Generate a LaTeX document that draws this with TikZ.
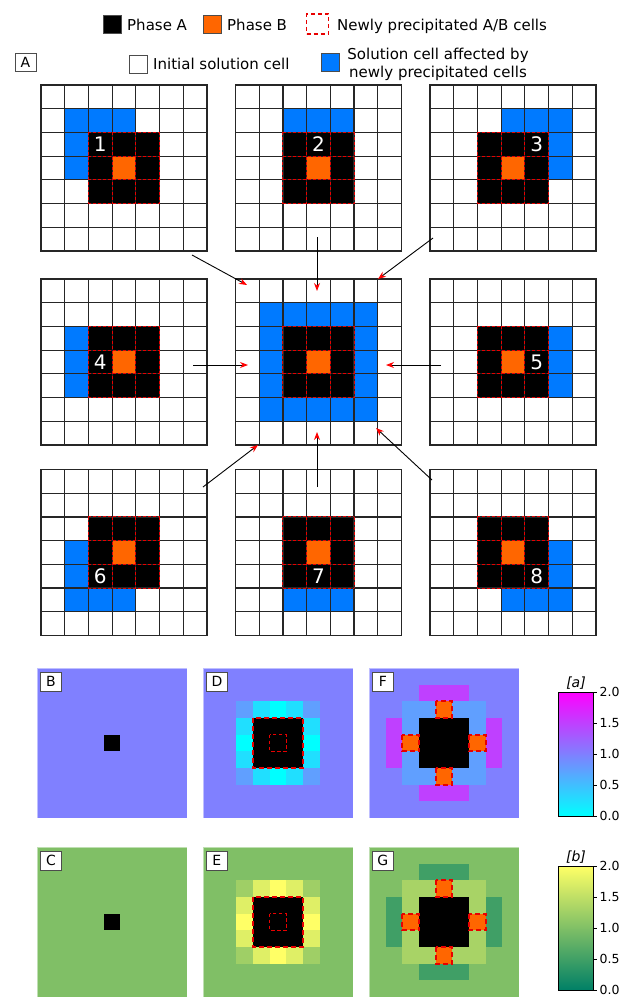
\documentclass[tikz,border=0pt]{standalone}
\usepackage{fontspec}
\setmainfont{DejaVu Sans}
\usetikzlibrary{arrows.meta}
\definecolor{phB}{RGB}{255,102,0}
\definecolor{solblue}{RGB}{0,122,255}
\definecolor{dred}{RGB}{232,0,0}
\definecolor{coolbg}{RGB}{128,128,255}
\definecolor{coolC}{RGB}{96,159,255}
\definecolor{coolE}{RGB}{32,223,255}
\definecolor{coolM}{RGB}{0,255,255}
\definecolor{coolP}{RGB}{191,64,255}
\definecolor{coolhi}{RGB}{255,0,255}
\definecolor{sumbg}{RGB}{128,191,102}
\definecolor{sumC}{RGB}{159,207,102}
\definecolor{sumE}{RGB}{223,239,102}
\definecolor{sumM}{RGB}{255,255,102}
\definecolor{sumR}{RGB}{168,211,102}
\definecolor{sumD}{RGB}{64,159,102}
\definecolor{sumlo}{RGB}{0,128,102}
\tikzset{
 gridline/.style={line width=1.2pt, black!85, line cap=rect},
 reddash/.style={dred, line width=1.1pt, dash pattern=on 3pt off 2pt},
 bigdash/.style={dred, line width=1.8pt, dash pattern=on 5pt off 3pt},
 numlabel/.style={text=white, font=\fontsize{20}{24}\selectfont, inner sep=0},
 legsq/.style={minimum size=18pt, inner sep=0, draw=black!70, line width=0.8pt},
 legtext/.style={font=\fontsize{15}{18}\selectfont, inner sep=0, anchor=base west},
 panlabel/.style={draw=black!70, fill=white, line width=0.8pt, minimum width=21pt, minimum height=19pt, inner sep=0, font=\fontsize{14}{16}\selectfont, anchor=north west},
 flow/.style={black, line width=0.9pt, -{Stealth[red, length=8pt, width=6pt]}},
 ticklab/.style={font=\fontsize{12.5}{14}\selectfont, inner sep=0, anchor=west},
 cbar/.style={draw=black, line width=0.8pt, minimum width=35pt, minimum height=124pt, inner sep=0},
 cbtitle/.style={font=\fontsize{14}{16}\selectfont\itshape, inner sep=0},
 heatframe/.style={draw=white, draw opacity=0.5, line width=0.8pt},
}
\newcommand{\bl}[2]{\fill[solblue] (#1,#2) rectangle ++(1,1);}
\newcommand{\gridpanel}[3]{%
\begin{scope}[shift={(#1,#2)}, x=23.71pt, y=-23.71pt]
 \fill[black] (2,2) rectangle (5,5);
 \fill[phB] (3,3) rectangle (4,4);
 #3
 \foreach \k in {0,...,7} {\draw[gridline] (\k,0) -- (\k,7); \draw[gridline] (0,\k) -- (7,\k);}
 \foreach \k in {2,3,4,5} {\draw[reddash] (2,\k) -- (5,\k); \draw[reddash] (\k,2) -- (\k,5);}
\end{scope}}
\newcommand{\hc}[3]{\fill[#3] (#1,#2) rectangle ++(1,1);}
\newcommand{\ringpanel}[6]{%
\begin{scope}[shift={(#1,#2)}, x=16.667pt, y=-16.667pt]
 \fill[#3] (0,0) rectangle (9,9);
 \foreach \c/\r in {2/2,6/2,2/6,6/6} {\hc{\c}{\r}{#4}}
 \foreach \c/\r in {3/2,5/2,3/6,5/6,2/3,2/5,6/3,6/5} {\hc{\c}{\r}{#5}}
 \foreach \c/\r in {4/2,4/6,2/4,6/4} {\hc{\c}{\r}{#6}}
 \fill[black] (3,3) rectangle (6,6);
 \draw[bigdash] (3,3) rectangle (6,6);
 \draw[dred, line width=1.6pt, dash pattern=on 3.5pt off 2.5pt] (4,4) rectangle (5,5);
 \draw[heatframe] (0,0) rectangle (9,9);
\end{scope}}
\newcommand{\crosspanel}[5]{%
\begin{scope}[shift={(#1,#2)}, x=16.667pt, y=-16.667pt]
 \fill[#3] (0,0) rectangle (9,9);
 \fill[#4] (2,2) rectangle (7,7);
 \fill[#5] (3,1) rectangle (6,2);
 \fill[#5] (3,7) rectangle (6,8);
 \fill[#5] (1,3) rectangle (2,6);
 \fill[#5] (7,3) rectangle (8,6);
 \fill[black] (3,3) rectangle (6,6);
 \foreach \c/\r in {4/2,2/4,6/4,4/6} {\fill[phB] (\c,\r) rectangle ++(1,1); \draw[bigdash] (\c,\r) rectangle ++(1,1);}
 \draw[heatframe] (0,0) rectangle (9,9);
\end{scope}}
\newcommand{\dotpanel}[3]{%
\begin{scope}[shift={(#1,#2)}, x=16.667pt, y=-16.667pt]
 \fill[#3] (0,0) rectangle (9,9);
 \fill[black] (4,4) rectangle (5,5);
 \draw[heatframe] (0,0) rectangle (9,9);
\end{scope}}
\begin{document}
\begin{tikzpicture}[x=1pt, y=-1pt]
\useasboundingbox[fill=white] (0,0) rectangle (622,998);
% legend
\node[legsq, fill=black] (lgA) at (112,24.5) {};
\node[legtext] (tA) at (127,31) {Phase A};
\node[legsq, fill=phB] (lgB) at (212,24.5) {};
\node[legtext] (tB) at (227,31) {Phase B};
\node[minimum width=22pt, minimum height=20pt, inner sep=0, draw=dred, line width=1.6pt, dash pattern=on 4pt off 3pt] (lgN) at (317.5,24) {};
\node[legtext] (tN) at (337,31) {Newly precipitated A/B cells};
\node[panlabel, minimum height=18pt, anchor=center] (labA) at (25.5,62) {A};
\node[legsq, fill=white] (lgI) at (138,64) {};
\node[legtext] (tI) at (153,70) {Initial solution cell};
\node[legsq, fill=solblue] (lgS) at (330,62) {};
\node[font=\fontsize{15}{18}\selectfont, align=center, inner sep=0] (tS) at (438,64) {Solution cell affected by\\newly precipitated cells};
% grid panels
\gridpanel{41}{85}{\bl{1}{1}\bl{2}{1}\bl{3}{1}\bl{1}{2}\bl{1}{3}\node[numlabel] (n1) at (2.5,2.5) {1};}
\gridpanel{235.5}{85}{\bl{2}{1}\bl{3}{1}\bl{4}{1}\node[numlabel] (n2) at (3.5,2.5) {2};}
\gridpanel{430}{85}{\bl{3}{1}\bl{4}{1}\bl{5}{1}\bl{5}{2}\bl{5}{3}\node[numlabel] (n3) at (4.5,2.5) {3};}
\gridpanel{41}{279}{\bl{1}{2}\bl{1}{3}\bl{1}{4}\node[numlabel] (n4) at (2.5,3.5) {4};}
\gridpanel{235.5}{279}{\fill[solblue] (1,1) rectangle (6,6); \fill[black] (2,2) rectangle (5,5); \fill[phB] (3,3) rectangle (4,4);}
\gridpanel{430}{279}{\bl{5}{2}\bl{5}{3}\bl{5}{4}\node[numlabel] (n5) at (4.5,3.5) {5};}
\gridpanel{41}{469.5}{\bl{1}{3}\bl{1}{4}\bl{1}{5}\bl{2}{5}\bl{3}{5}\node[numlabel] (n6) at (2.5,4.5) {6};}
\gridpanel{235.5}{469.5}{\bl{2}{5}\bl{3}{5}\bl{4}{5}\node[numlabel] (n7) at (3.5,4.5) {7};}
\gridpanel{430}{469.5}{\bl{5}{3}\bl{5}{4}\bl{3}{5}\bl{4}{5}\bl{5}{5}\node[numlabel] (n8) at (4.5,4.5) {8};}
% arrows
\coordinate (a1s) at (192,255); \coordinate (a1e) at (247,285);
\coordinate (a2s) at (317,237); \coordinate (a2e) at (317,291);
\coordinate (a3s) at (433,238); \coordinate (a3e) at (378,279);
\coordinate (a4s) at (193,365); \coordinate (a4e) at (248,365);
\coordinate (a5s) at (441,365); \coordinate (a5e) at (386,365);
\coordinate (a6s) at (203,487); \coordinate (a6e) at (258,445);
\coordinate (a7s) at (317,487); \coordinate (a7e) at (317,432);
\coordinate (a8s) at (432,480); \coordinate (a8e) at (376,428);
\foreach \i in {1,...,8} {\draw[flow] (a\i s) -- (a\i e);}
% heat maps
\dotpanel{37}{668}{coolbg}
\node[panlabel] (lB) at (40,671.5) {B};
\ringpanel{203}{668}{coolbg}{coolC}{coolE}{coolM}
\node[panlabel] (lD) at (206,671.5) {D};
\crosspanel{369}{668}{coolbg}{coolC}{coolP}
\node[panlabel] (lF) at (372,671.5) {F};
\dotpanel{37}{847}{sumbg}
\node[panlabel] (lC) at (40,850.5) {C};
\ringpanel{203}{847}{sumbg}{sumC}{sumE}{sumM}
\node[panlabel] (lE) at (206,850.5) {E};
\crosspanel{369}{847}{sumbg}{sumR}{sumD}
\node[panlabel] (lG) at (372,850.5) {G};
% colorbars
\node[cbar, top color=coolhi, bottom color=coolM] (cba) at (575.5,754) {};
\node[cbtitle, anchor=base] (ta) at (576,687) {[a]};
\node[cbar, top color=sumM, bottom color=sumlo] (cbb) at (575.5,928) {};
\node[cbtitle, anchor=base] (tb) at (576,861) {[b]};
\foreach \v/\lab in {0/0.0,1/0.5,2/1.0,3/1.5,4/2.0} {
 \draw[line width=0.8pt] ([yshift=\v*31pt]cba.south east) -- ++(4,0);
 \node[ticklab] at ([xshift=6pt, yshift=\v*31pt]cba.south east) {\lab};
 \draw[line width=0.8pt] ([yshift=\v*31pt]cbb.south east) -- ++(4,0);
 \node[ticklab] at ([xshift=6pt, yshift=\v*31pt]cbb.south east) {\lab};
}
\end{tikzpicture}
\end{document}
